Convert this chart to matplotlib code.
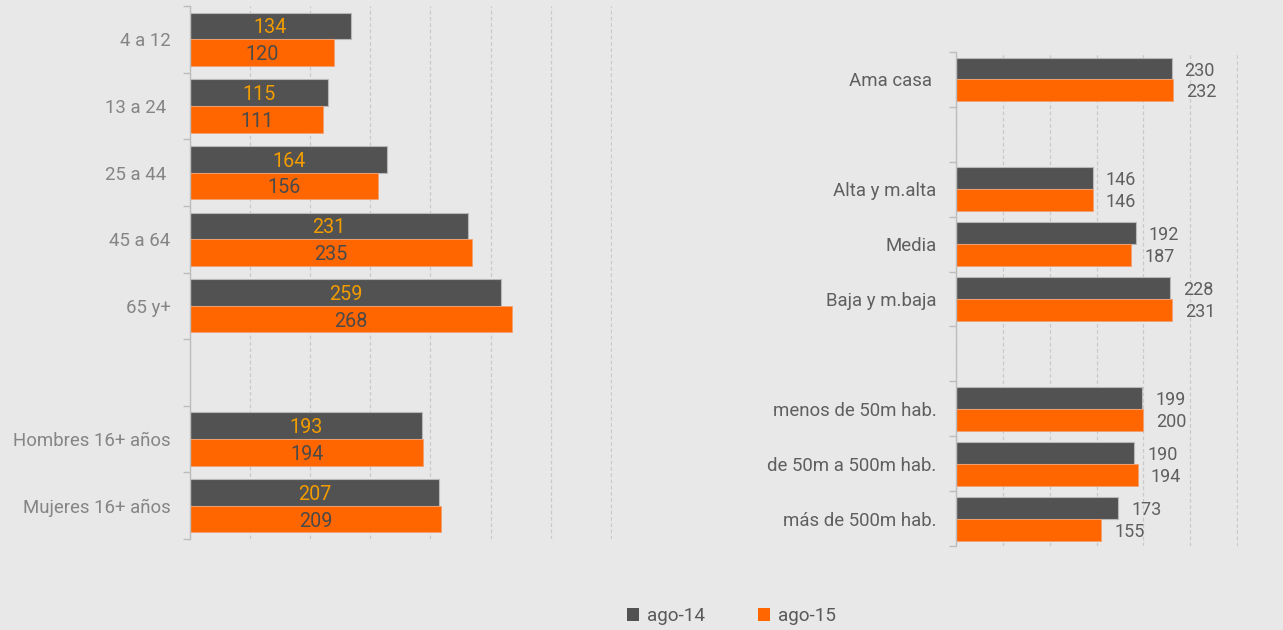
import numpy as np
import matplotlib
matplotlib.use("Agg")
import matplotlib.pyplot as plt
from matplotlib.patches import Patch

plt.rcParams['font.family'] = ['Roboto', 'DejaVu Sans']

# ---- data ----
left_cats = ["4 a 12", "13 a 24 ", "25 a 44 ", "45 a 64", "65 y+", "", "Hombres 16+ años", "Mujeres 16+ años"]
left_2014 = [134, 115, 164, 231, 259, np.nan, 193, 207]
left_2015 = [120, 111, 156, 235, 268, np.nan, 194, 209]

right_cats = ["Ama casa ", "", "Alta y m.alta", "Media", "Baja y m.baja", "",
              "menos de 50m hab.", "de 50m a 500m hab.", "más de 500m hab."]
right_2014 = [230, np.nan, 146, 192, 228, np.nan, 199, 190, 173]
right_2015 = [232, np.nan, 146, 187, 231, np.nan, 200, 194, 155]

series_names = ["ago-14", "ago-15"]

# ---- style ----
BG = "#e8e8e8"
DARK = "#525252"
ORANGE = "#ff6600"
LBL_ORANGE = "#f39c00"
GRID = "#c9c9c9"

fig = plt.figure(figsize=(12.83, 6.30), dpi=100, facecolor=BG)

def setup(ax, cats, xmax, label_color):
    n = len(cats)
    ax.set_facecolor(BG)
    ax.set_xlim(0, xmax * 1.003)
    ax.set_ylim(n - 0.5, -0.5)
    for s in ["top", "right", "bottom"]:
        ax.spines[s].set_visible(False)
    ax.spines["left"].set_color("#bdbdbd")
    ax.spines["left"].set_linewidth(1)
    ax.set_xticks(np.arange(0, xmax + 1, 50))
    ax.tick_params(axis="x", length=0, labelbottom=False)
    ax.xaxis.grid(True, color=GRID, linestyle=(0, (3, 2)), linewidth=0.9)
    ax.set_axisbelow(True)
    ax.set_yticks(np.arange(n))
    ax.set_yticklabels(cats)
    ax.set_yticks(np.arange(-0.5, n, 1.0), minor=True)
    ax.tick_params(axis="y", which="major", length=0, pad=14,
                   labelsize=13.4, labelcolor=label_color)
    ax.tick_params(axis="y", which="minor", length=5, color="#bdbdbd", width=1)

h = 0.4

# ---- left chart ----
axL = fig.add_axes([0.1481, 0.1444, 0.3289, 0.8461])
setup(axL, left_cats, 350, "#858585")
y = np.arange(len(left_cats))
axL.barh(y - h / 2, left_2014, height=h, color=DARK, edgecolor="#b8b8b8", linewidth=0.8)
axL.barh(y + h / 2, left_2015, height=h, color=ORANGE, edgecolor="#f4a070", linewidth=0.6)
for yi, v in zip(y, left_2014):
    if not np.isnan(v):
        axL.text(v / 2, yi - h / 2, f"{v:.0f}", ha="center", va="center_baseline",
                 fontsize=14.2, color=LBL_ORANGE)
for yi, v in zip(y, left_2015):
    if not np.isnan(v):
        axL.text(v / 2, yi + h / 2, f"{v:.0f}", ha="center", va="center_baseline",
                 fontsize=14.2, color="#4a4a4a")

# ---- right chart ----
axR = fig.add_axes([0.7451, 0.1333, 0.2198, 0.7841])
setup(axR, right_cats, 300, "#5f5f5f")
y = np.arange(len(right_cats))
axR.barh(y - h / 2, right_2014, height=h, color=DARK, edgecolor="#b8b8b8", linewidth=0.8)
axR.barh(y + h / 2, right_2015, height=h, color=ORANGE, edgecolor="#f4a070", linewidth=0.6)
for yi, v in zip(y, right_2014):
    if not np.isnan(v):
        axR.annotate(f"{v:.0f}", (v, yi - h / 2), xytext=(13, 0), textcoords="offset pixels",
                     ha="left", va="center_baseline", fontsize=13, color="#5f5f5f")
for yi, v in zip(y, right_2015):
    if not np.isnan(v):
        axR.annotate(f"{v:.0f}", (v, yi + h / 2), xytext=(13, 0), textcoords="offset pixels",
                     ha="left", va="center_baseline", fontsize=13, color="#5f5f5f")

# ---- legend ----
handles = [Patch(facecolor=DARK, edgecolor="none"), Patch(facecolor=ORANGE, edgecolor="none")]
leg = fig.legend(handles, series_names, loc="center", bbox_to_anchor=(0.570, 0.022), ncol=2,
                 frameon=False, fontsize=13.6, handlelength=0.65, handleheight=0.65,
                 handletextpad=0.4, columnspacing=2.8)
for t in leg.get_texts():
    t.set_color("#595959")

fig.savefig("out.png", dpi=100, facecolor=BG)
